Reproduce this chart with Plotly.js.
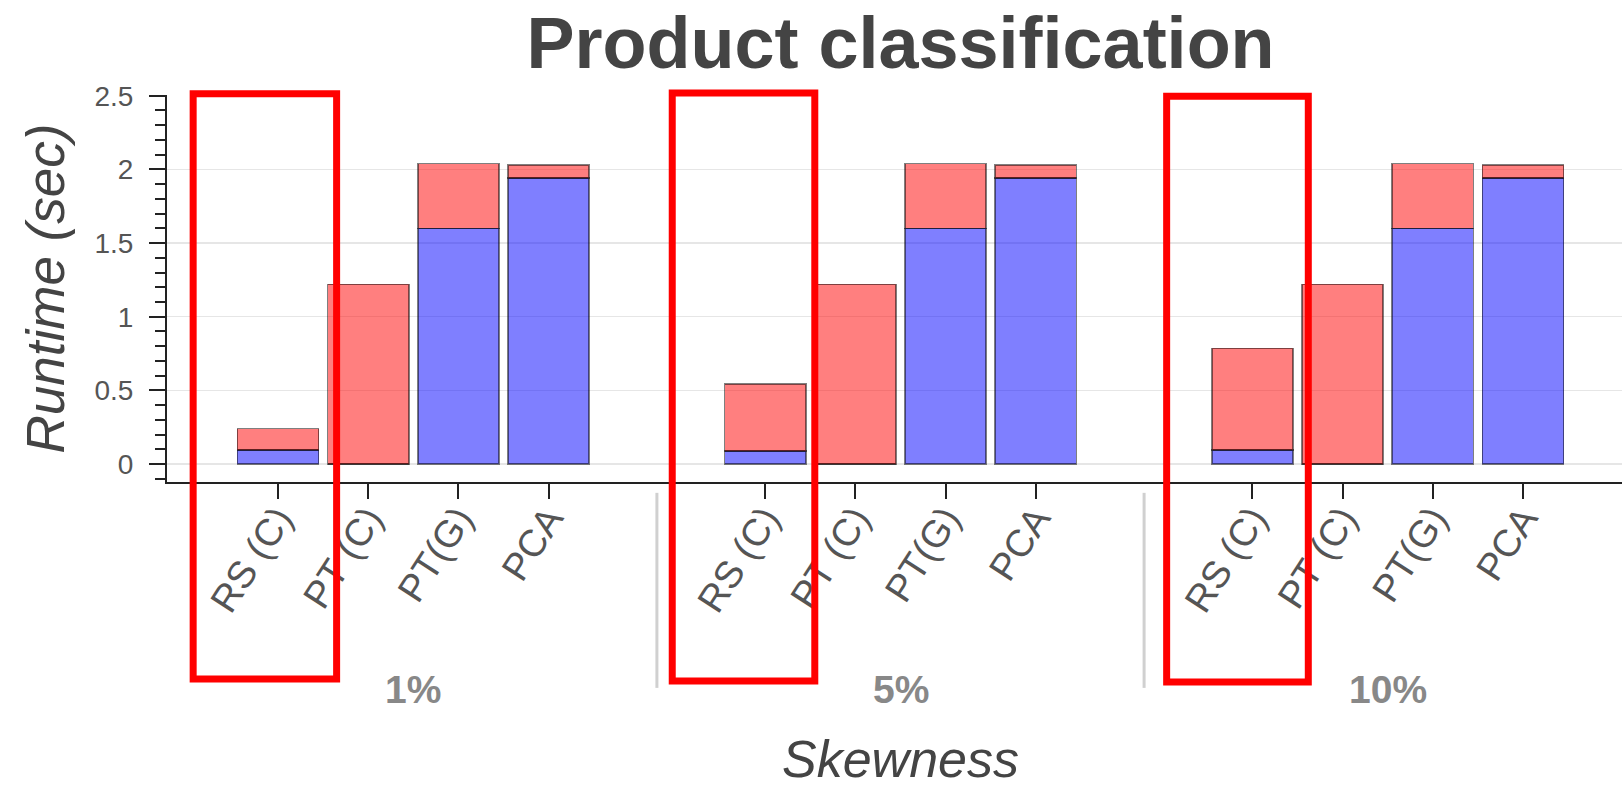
<!DOCTYPE html>
<html>
<head>
<meta charset="utf-8">
<script src="https://cdn.plot.ly/plotly-3.0.1.min.js"></script>
<style>
html, body { margin: 0; padding: 0; overflow: hidden; background: #fff; }
#chart { width: 1640px; height: 788px; }
</style>
</head>
<body>
<div id="chart"></div>
<script>
// ---- data ----
const groups = ['1%', '5%', '10%'];
const methods = ['RS (C)', 'PT (C)', 'PT(G)', 'PCA'];
// lower (blue) segment per group, in method order
const blue1 = [0.095, 0, 1.60, 1.94];
const blue5 = [0.088, 0, 1.60, 1.94];
const blue10 = [0.095, 0, 1.60, 1.94];
// upper (red) segment per group, in method order
const red1 = [0.145, 1.22, 0.44, 0.09];
const red5 = [0.454, 1.22, 0.44, 0.09];
const red10 = [0.69, 1.22, 0.44, 0.09];
const yTicks = [0, 0.5, 1, 1.5, 2, 2.5];
const yTickText = ['0', '0.5', '1', '1.5', '2', '2.5'];

// ---- layout helpers (positions on a categorical scale with group padding) ----
const GROUP_PAD = 1.4;
const step = methods.length + GROUP_PAD;
const pos = (g, i) => g * step + i;

const blueAll = [blue1, blue5, blue10];
const redAll = [red1, red5, red10];

const xs = [], blueY = [], redY = [], tickvals = [], ticktext = [];
groups.forEach((g, gi) => {
  methods.forEach((m, mi) => {
    xs.push(pos(gi, mi));
    blueY.push(blueAll[gi][mi]);
    redY.push(redAll[gi][mi]);
    tickvals.push(pos(gi, mi));
    ticktext.push(m);
  });
});

const FONT = '"Liberation Sans", Arial, Helvetica, sans-serif';
const lineStyle = { color: 'rgba(0,0,0,0.5)', width: 1.6 };

const traces = [
  { type: 'bar', x: xs, y: blueY, name: 'lower', width: 0.9,
    marker: { color: 'rgba(0,0,255,0.5)', line: lineStyle }, hoverinfo: 'x+y' },
  { type: 'bar', x: xs, y: redY, name: 'upper', width: 0.9,
    marker: { color: 'rgba(255,0,0,0.5)', line: lineStyle }, hoverinfo: 'x+y' }
];

// group labels and dividers
const annotations = groups.map((g, gi) => ({
  x: pos(gi, (methods.length - 1) / 2), xref: 'x', y: -0.535, yref: 'paper',
  text: '<b>' + g + '</b>', showarrow: false, xanchor: 'center', yanchor: 'middle',
  font: { family: FONT, size: 39, color: '#888' }
}));

const shapes = [];
for (let gi = 1; gi < groups.length; gi++) {
  const mid = (pos(gi - 1, methods.length - 1) + pos(gi, 0)) / 2;
  shapes.push({ type: 'line', xref: 'x', yref: 'paper', x0: mid, x1: mid, y0: -0.028, y1: -0.532,
    line: { color: '#d0d0d0', width: 3 } });
}
// red highlight boxes (overlay annotation), relative to the first category of each group
const highlights = [
  { g: 0, left: -0.94, right: 0.65, top: 1.003, bottom: -0.509 },
  { g: 1, left: -1.03, right: 0.55, top: 1.005, bottom: -0.514 },
  { g: 2, left: -0.95, right: 0.62, top: 0.997, bottom: -0.517 }
];
highlights.forEach(h => {
  shapes.push({ type: 'rect', xref: 'x', yref: 'paper',
    x0: pos(h.g, 0) + h.left, x1: pos(h.g, 0) + h.right, y0: h.bottom, y1: h.top,
    line: { color: '#ff0000', width: 7 }, fillcolor: 'rgba(0,0,0,0)', layer: 'above' });
});

const layout = {
  width: 1640, height: 788,
  margin: { l: 167, r: 6, t: 95, b: 306 },
  barmode: 'stack',
  showlegend: false,
  paper_bgcolor: '#ffffff',
  plot_bgcolor: '#ffffff',
  title: { text: '<b>Product classification</b>', x: 0.5, xref: 'paper', xanchor: 'center',
    y: 1 - 43 / 788, yref: 'container', yanchor: 'middle',
    font: { family: FONT, size: 72, color: '#444' } },
  xaxis: {
    range: [-1.23, pos(groups.length - 1, methods.length - 1) + 1.23],
    tickmode: 'array', tickvals: tickvals, ticktext: ticktext, tickangle: -57,
    ticks: 'outside', ticklen: 15, tickwidth: 2, tickcolor: '#222',
    ticklabelstandoff: -18,
    showline: true, linecolor: '#222', linewidth: 2,
    showgrid: false, zeroline: false,
    tickfont: { family: FONT, size: 38, color: '#555' },
    title: { text: '<i>Skewness</i>', standoff: 149, font: { family: FONT, size: 52, color: '#444' } }
  },
  yaxis: {
    range: [-0.122, 2.505],
    tickmode: 'array', tickvals: yTicks, ticktext: yTickText,
    ticks: 'outside', ticklen: 16, tickwidth: 2, tickcolor: '#222',
    ticklabelstandoff: 10,
    minor: { dtick: 0.1, tick0: 0, ticks: 'outside', ticklen: 10, tickwidth: 2, tickcolor: '#222', showgrid: false },
    showline: true, linecolor: '#222', linewidth: 2,
    showgrid: true, gridcolor: '#e6e6e6', gridwidth: 1.5, zeroline: false,
    tickfont: { family: FONT, size: 28, color: '#555' },
    title: { text: '<i>Runtime (sec)</i>', standoff: 13, font: { family: FONT, size: 53, color: '#444' } }
  },
  annotations: annotations,
  shapes: shapes
};

Plotly.newPlot('chart', traces, layout, { displayModeBar: false, staticPlot: true });
</script>
</body>
</html>
